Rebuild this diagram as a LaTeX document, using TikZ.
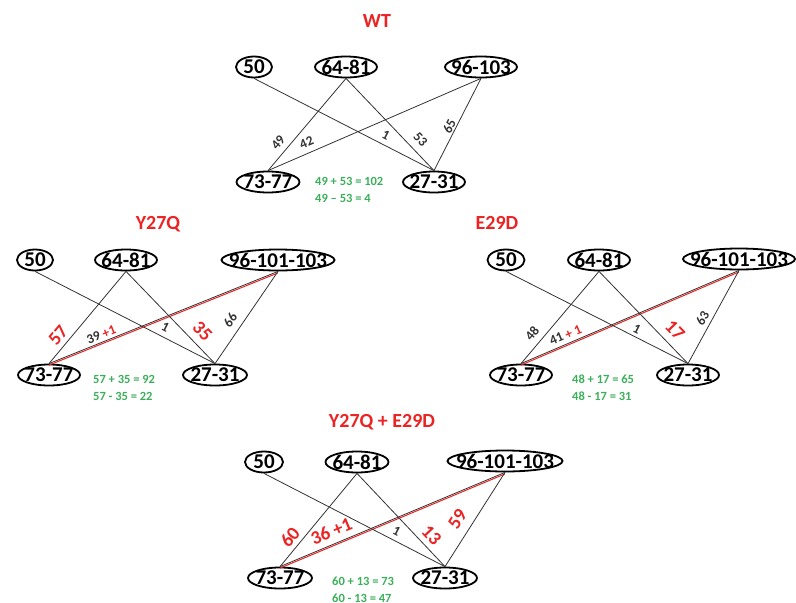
\documentclass[tikz,border=0pt]{standalone}
\usepackage{fontspec}
\setmainfont{Carlito}
\usetikzlibrary{shapes.geometric}
\definecolor{mutred}{RGB}{235,35,35}
\definecolor{sumgreen}{RGB}{60,175,90}
\newcommand{\ctr}[1]{\makebox[0pt]{#1}}

\begin{document}
\begin{tikzpicture}[x=1pt,y=-1pt,
    site/.style={ellipse,draw,line width=1.8pt,inner sep=0pt,minimum height=21pt,
                 font=\fontsize{21}{23}\selectfont\bfseries},
    link/.style={black!80,line width=0.8pt},
    redlink/.style={mutred,line width=1pt,transform canvas={yshift=-1.5pt}},
    title/.style={mutred,font=\fontsize{20}{22}\selectfont\bfseries},
    num/.style={font=\fontsize{13.5}{15}\selectfont\bfseries,sloped,above,inner sep=4pt},
    bignum/.style={mutred,font=\fontsize{19}{21}\selectfont\bfseries,sloped,above,inner sep=5pt},
    sums/.style={sumgreen,font=\fontsize{12.5}{17}\selectfont\bfseries,align=left,
                 anchor=north west,inner sep=0pt}]
  \useasboundingbox (0,0) rectangle (796,603);

  % WT
  \node[title] (wt) at (377,21) {WT};
  \node[site,minimum width=36pt] (wt50) at (254,67) {\ctr{50}};
  \node[site,minimum width=62pt] (wt64) at (346,67) {\ctr{64-81}};
  \node[site,minimum width=72pt] (wt96) at (481,67) {\ctr{96-103}};
  \node[site,minimum width=63pt] (wt73) at (268,182) {\ctr{73-77}};
  \node[site,minimum width=62pt] (wt27) at (434,182) {\ctr{27-31}};
  \draw[link] (wt73.north) -- node[num,pos=0.23,inner sep=5.5pt] {49} (wt64.south);
  \draw[link] (wt73.north) -- node[num,pos=0.2,inner sep=5.5pt] {42} (wt96.south);
  \draw[link] (wt50.south) -- node[num,pos=0.71,inner sep=4.5pt] {1} (wt27.north);
  \draw[link] (wt64.south) -- node[num,pos=0.75,inner sep=7pt] {53} (wt27.north);
  \draw[link] (wt27.north) -- node[num,pos=0.45,inner sep=1.5pt] {65} (wt96.south);
  \node[sums] (wtsum) at (315,177) {49 + 53 = 102\\49 – 53 = 4};

  % Y27Q
  \node[title] (yq) at (158,224) {Y27Q};
  \node[site,minimum width=36pt] (yq50) at (35,260) {\ctr{50}};
  \node[site,minimum width=62pt] (yq64) at (126,260) {\ctr{64-81}};
  \node[site,minimum width=113pt] (yq96) at (278,260) {\ctr{96-101-103}};
  \node[site,minimum width=62pt] (yq73) at (49,375) {\ctr{73-77}};
  \node[site,minimum width=64pt] (yq27) at (215,375) {\ctr{27-31}};
  \draw[link] (yq73.north) -- node[bignum,pos=0.23,inner sep=4.5pt] {57} (yq64.south);
  \draw[link] (yq73.north) -- node[num,pos=0.24,inner sep=2.5pt] {39 \textcolor{mutred}{+1}} (yq96.south);
  \draw[redlink] (yq73.north) -- (yq96.south);
  \draw[link] (yq50.south) -- node[num,pos=0.7,inner sep=5pt] {1} (yq27.north);
  \draw[link] (yq64.south) -- node[bignum,pos=0.75,inner sep=7pt] {35} (yq27.north);
  \draw[link] (yq27.north) -- node[num,pos=0.4,inner sep=7pt] {66} (yq96.south);
  \node[sums] (yqsum) at (93,375) {57 + 35 = 92\\57 - 35 = 22};

  % E29D
  \node[title] (ed) at (497,223) {E29D};
  \node[site,minimum width=37pt] (ed50) at (506,260) {\ctr{50}};
  \node[site,minimum width=62pt] (ed64) at (599,260) {\ctr{64-81}};
  \node[site,minimum width=112pt] (ed96) at (739,259) {\ctr{96-101-103}};
  \node[site,minimum width=62pt] (ed73) at (521,375) {\ctr{73-77}};
  \node[site,minimum width=62pt] (ed27) at (688,375) {\ctr{27-31}};
  \draw[link] (ed73.north) -- node[num,pos=0.25,inner sep=6pt] {48} (ed64.south);
  \draw[link] (ed73.north) -- node[num,pos=0.22,inner sep=4pt] {41 \textcolor{mutred}{+ 1}} (ed96.south);
  \draw[redlink] (ed73.north) -- (ed96.south);
  \draw[link] (ed50.south) -- node[num,pos=0.7,inner sep=3pt] {1} (ed27.north);
  \draw[link] (ed64.south) -- node[bignum,pos=0.74,inner sep=7.5pt] {17} (ed27.north);
  \draw[link] (ed27.north) -- node[num,pos=0.44,inner sep=4pt] {63} (ed96.south);
  \node[sums] (edsum) at (572,375) {48 + 17 = 65\\48 - 17 = 31};

  % Y27Q + E29D
  \node[title] (dm) at (382,422) {Y27Q + E29D};
  \node[site,minimum width=38pt] (dm50) at (264,462) {\ctr{50}};
  \node[site,minimum width=63pt] (dm64) at (357,462) {\ctr{64-81}};
  \node[site,minimum width=115pt] (dm96) at (505,461) {\ctr{96-101-103}};
  \node[site,minimum width=64pt] (dm73) at (280,578) {\ctr{73-77}};
  \node[site,minimum width=64pt] (dm27) at (445,578) {\ctr{27-31}};
  \draw[link] (dm73.north) -- node[bignum,pos=0.24,inner sep=4pt] {60} (dm64.south);
  \draw[link] (dm73.north) -- node[bignum,pos=0.25,inner sep=6pt] {36 +1} (dm96.south);
  \draw[redlink] (dm73.north) -- (dm96.south);
  \draw[link] (dm50.south) -- node[num,pos=0.71,inner sep=4.5pt] {1} (dm27.north);
  \draw[link] (dm64.south) -- node[bignum,pos=0.75,inner sep=5pt] {13} (dm27.north);
  \draw[link] (dm27.north) -- node[bignum,pos=0.42,inner sep=8.5pt] {59} (dm96.south);
  \node[sums] (dmsum) at (332,577) {60 + 13 = 73\\60 - 13 = 47};
\end{tikzpicture}
\end{document}
